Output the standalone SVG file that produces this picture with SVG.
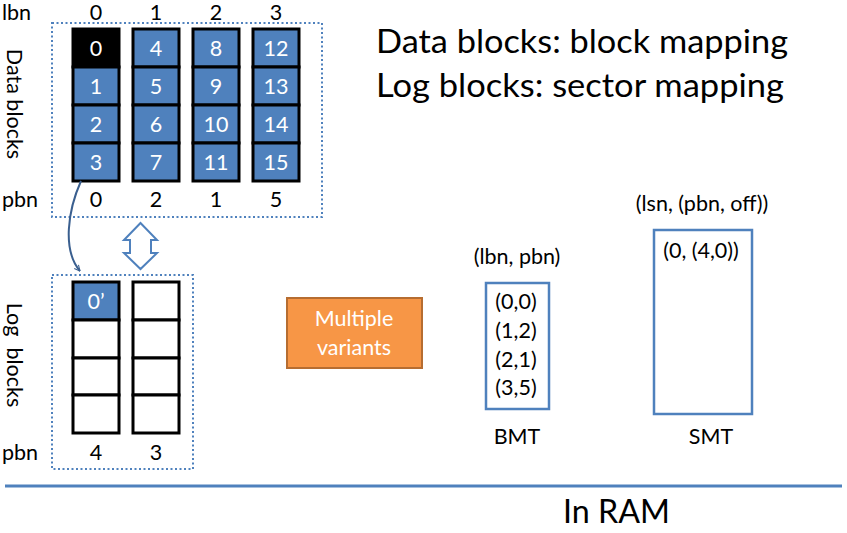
<svg xmlns="http://www.w3.org/2000/svg" width="847" height="533" viewBox="0 0 847 533">
<defs>
<style>
text{font-family:Lato,"Open Sans","Liberation Sans",sans-serif;}
.lbl{font-size:21.5px;fill:#000;}
.cw{font-size:21.5px;fill:#fff;text-anchor:middle;}
.c{text-anchor:middle;}
.blue{fill:#4F81BD;stroke:#000;stroke-width:3;}
.blk{fill:#000;stroke:#000;stroke-width:3;}
.emp{fill:#fff;stroke:#000;stroke-width:3;}
.dot{fill:none;stroke:#4F81BD;stroke-width:2;stroke-dasharray:2 2.5;}
.tbl{fill:#fff;stroke:#4F81BD;stroke-width:2.5;}
</style>
<marker id="ah" viewBox="0 0 10 10" refX="9" refY="5" markerWidth="7" markerHeight="7" orient="auto" markerUnits="userSpaceOnUse">
<path d="M1,1 L9,5 L1,9" fill="none" stroke="#3A5F8F" stroke-width="1.5"/>
</marker>
</defs>
<rect width="847" height="533" fill="#fff"/>

<g id="title">
<text x="376" y="53" font-size="32" textLength="412" lengthAdjust="spacingAndGlyphs">Data blocks: block mapping</text>
<text x="376" y="97" font-size="32" textLength="408" lengthAdjust="spacingAndGlyphs">Log blocks: sector mapping</text>
</g>

<g id="data-blocks">
<rect class="dot" x="52" y="23" width="270" height="194"/>
<text class="lbl" x="2" y="20">lbn</text>
<text class="lbl c" x="96" y="20">0</text>
<text class="lbl c" x="156" y="20">1</text>
<text class="lbl c" x="216" y="20">2</text>
<text class="lbl c" x="276" y="20">3</text>
<text class="lbl" transform="translate(7,104) rotate(90)" text-anchor="middle">Data blocks</text>
<rect class="blk" x="73" y="29" width="46" height="38"/>
<rect class="blue" x="73" y="67" width="46" height="38"/>
<rect class="blue" x="73" y="105" width="46" height="38"/>
<rect class="blue" x="73" y="143" width="46" height="38"/>
<rect class="blue" x="133" y="29" width="46" height="38"/>
<rect class="blue" x="133" y="67" width="46" height="38"/>
<rect class="blue" x="133" y="105" width="46" height="38"/>
<rect class="blue" x="133" y="143" width="46" height="38"/>
<rect class="blue" x="193" y="29" width="46" height="38"/>
<rect class="blue" x="193" y="67" width="46" height="38"/>
<rect class="blue" x="193" y="105" width="46" height="38"/>
<rect class="blue" x="193" y="143" width="46" height="38"/>
<rect class="blue" x="253" y="29" width="46" height="38"/>
<rect class="blue" x="253" y="67" width="46" height="38"/>
<rect class="blue" x="253" y="105" width="46" height="38"/>
<rect class="blue" x="253" y="143" width="46" height="38"/>
<text class="cw" x="96" y="56">0</text>
<text class="cw" x="96" y="94">1</text>
<text class="cw" x="96" y="132">2</text>
<text class="cw" x="96" y="170">3</text>
<text class="cw" x="156" y="56">4</text>
<text class="cw" x="156" y="94">5</text>
<text class="cw" x="156" y="132">6</text>
<text class="cw" x="156" y="170">7</text>
<text class="cw" x="216" y="56">8</text>
<text class="cw" x="216" y="94">9</text>
<text class="cw" x="216" y="132">10</text>
<text class="cw" x="216" y="170">11</text>
<text class="cw" x="276" y="56">12</text>
<text class="cw" x="276" y="94">13</text>
<text class="cw" x="276" y="132">14</text>
<text class="cw" x="276" y="170">15</text>
<text class="lbl" x="2" y="207">pbn</text>
<text class="lbl c" x="96" y="207">0</text>
<text class="lbl c" x="156" y="207">2</text>
<text class="lbl c" x="216" y="207">1</text>
<text class="lbl c" x="276" y="207">5</text>
</g>

<g id="log-blocks">
<rect class="dot" x="52" y="275" width="141" height="194"/>
<text class="lbl" transform="translate(7,355) rotate(90)" text-anchor="middle">Log&#160; blocks</text>
<rect class="blue" x="73" y="282" width="46" height="38"/>
<rect class="emp" x="73" y="320" width="46" height="38"/>
<rect class="emp" x="73" y="358" width="46" height="37"/>
<rect class="emp" x="73" y="395" width="46" height="38"/>
<rect class="emp" x="133" y="282" width="46" height="38"/>
<rect class="emp" x="133" y="320" width="46" height="38"/>
<rect class="emp" x="133" y="358" width="46" height="37"/>
<rect class="emp" x="133" y="395" width="46" height="38"/>
<text class="cw" x="96" y="309">0’</text>
<text class="lbl" x="2" y="460">pbn</text>
<text class="lbl c" x="96" y="460">4</text>
<text class="lbl c" x="156" y="460">3</text>
</g>

<g id="swap-arrow">
<path d="M140.5,223 L157,240 L151,240 L151,253 L157,253 L140.5,269 L124,253 L130,253 L130,240 L124,240 Z" fill="#fff" stroke="#4F81BD" stroke-width="2"/>
</g>

<g id="variants">
<rect x="287" y="298" width="135" height="70" fill="#F79646" stroke="#B66D31" stroke-width="2"/>
<text class="cw" x="354" y="326">Multiple</text>
<text class="cw" x="354" y="355">variants</text>
</g>

<g id="bmt">
<text class="lbl c" x="517" y="264">(lbn, pbn)</text>
<rect class="tbl" x="486" y="283" width="63" height="126"/>
<text class="lbl c" x="516" y="309">(0,0)</text>
<text class="lbl c" x="516" y="338">(1,2)</text>
<text class="lbl c" x="516" y="367">(2,1)</text>
<text class="lbl c" x="516" y="395">(3,5)</text>
<text class="lbl c" x="517" y="444">BMT</text>
</g>

<g id="smt">
<text class="lbl c" x="702" y="211">(lsn, (pbn, off))</text>
<rect class="tbl" x="654" y="230" width="98" height="184"/>
<text class="lbl c" x="701" y="258">(0, (4,0))</text>
<text class="lbl c" x="711" y="444">SMT</text>
</g>

<g id="connectors">
<path d="M81,181 C68,210 62,250 80,271" fill="none" stroke="#3A5F8F" stroke-width="2" marker-end="url(#ah)"/>
</g>

<g id="ram">
<line x1="5" y1="486" x2="842" y2="486" stroke="#4F81BD" stroke-width="3"/>
<text x="563" y="523" font-size="32" textLength="107" lengthAdjust="spacingAndGlyphs">In RAM</text>
</g>
</svg>
